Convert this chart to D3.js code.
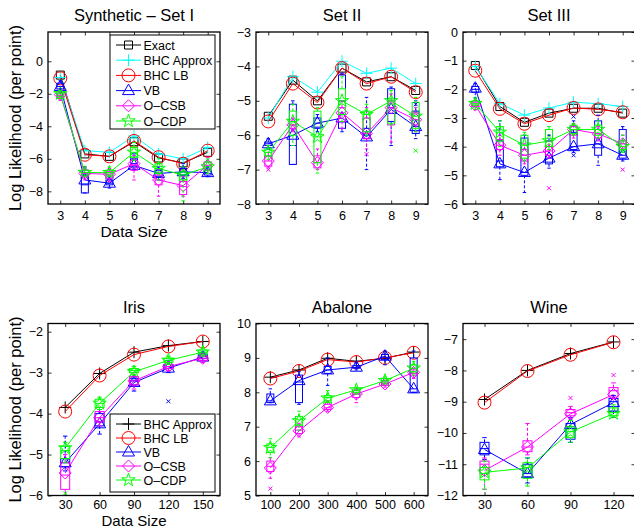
<!DOCTYPE html>
<html><head><meta charset="utf-8">
<script src="https://cdn.jsdelivr.net/npm/d3@7"></script>
<style>body{margin:0;background:#fff}text{font-family:"Liberation Sans",Arial,Helvetica,sans-serif}</style>
</head><body><svg id="c" width="634" height="529"></svg>
<script>
// ---------------- DATA ----------------
// Synthetic - Set I
const synthX = [3,4,5,6,7,8,9];
const synthExact  = [-0.85,-5.7,-5.85,-4.95,-5.95,-6.25,-5.6];
const synthApprox = [-1.0,-5.5,-5.6,-4.6,-5.7,-6.0,-5.3];
const synthLB     = [-1.05,-5.75,-5.85,-4.9,-5.9,-6.3,-5.5];
const synthVB     = [-1.55,-7.3,-7.5,-6.4,-6.9,-6.8,-6.85];
const synthCSB    = [-2.05,-6.9,-6.95,-6.3,-7.3,-7.65,-6.4];
const synthCDP    = [-2.0,-6.85,-6.85,-5.6,-6.6,-7.0,-6.5];
const synthVBBox  = [[-1.9,-1.7,-1.55,-1.35,-1.2],[-8.1,-8.1,-7.6,-7.0,-6.5],[-7.8,-7.6,-7.5,-7.3,-7.1],[-6.7,-6.5,-6.3,-6.0,-5.7],[-7.3,-7.1,-6.9,-6.7,-6.5],[-7.2,-7.0,-6.8,-6.6,-6.3],[-7.1,-7.0,-6.9,-6.7,-6.5]];
const synthCSBBox = [[-2.4,-2.2,-2.1,-2.0,-1.9],[-7.3,-7.1,-6.9,-6.7,-6.5],[-7.4,-7.2,-7.0,-6.8,-6.6],[-7.3,-6.7,-6.4,-6.1,-5.8],[-8.3,-7.6,-7.3,-7.0,-6.6],[-8.3,-8.2,-7.7,-7.4,-7.1],[-6.9,-6.7,-6.4,-6.2,-5.9]];
const synthCDPBox = [[-2.3,-2.15,-2.0,-1.9,-1.8],[-7.1,-7.0,-6.85,-6.7,-6.5],[-7.1,-7.0,-6.85,-6.7,-6.5],[-6.1,-5.9,-5.6,-5.3,-5.0],[-7.3,-6.9,-6.6,-6.3,-6.0],[-8.6,-7.3,-7.0,-6.8,-6.5],[-6.9,-6.7,-6.5,-6.2,-6.0]];
const synthYTicks = [0,-2,-4,-6,-8];

// Set II
const set2X = [3,4,5,6,7,8,9];
const set2Exact  = [-5.45,-4.4,-5.0,-4.05,-4.45,-4.3,-4.7];
const set2Approx = [-5.5,-4.3,-4.75,-3.85,-4.2,-4.05,-4.5];
const set2LB     = [-5.6,-4.5,-5.05,-4.05,-4.5,-4.3,-4.75];
const set2VB     = [-6.25,-6.0,-5.65,-5.5,-6.05,-5.25,-5.75];
const set2CSB    = [-6.75,-5.7,-6.8,-5.35,-5.95,-5.2,-5.55];
const set2CDP    = [-6.5,-5.6,-6.05,-5.0,-5.4,-5.0,-5.45];
const set2VBBox  = [[-6.4,-6.3,-6.25,-6.2,-6.1],[-6.85,-6.85,-6.3,-5.1,-5.0],[-5.9,-5.8,-5.65,-5.5,-5.4],[-5.9,-5.8,-5.0,-4.25,-4.2],[-7.0,-6.1,-6.0,-5.8,-4.9],[-6.3,-5.6,-5.2,-4.65,-4.6],[-6.1,-5.95,-5.75,-5.3,-5.0]];
const set2CSBBox = [[-6.95,-6.9,-6.75,-6.6,-6.5],[-5.9,-5.8,-5.7,-5.6,-5.5],[-7.0,-6.95,-6.8,-6.6,-6.4],[-5.8,-5.6,-5.35,-5.2,-5.0],[-6.4,-6.1,-5.95,-5.5,-5.2],[-6.2,-5.7,-5.2,-5.0,-4.8],[-5.9,-5.7,-5.55,-5.35,-5.2]];
const set2CDPBox = [[-6.7,-6.6,-6.5,-6.4,-6.3],[-6.3,-6.0,-5.6,-5.3,-5.1],[-7.1,-6.8,-6.05,-5.3,-5.2],[-5.6,-5.4,-5.0,-4.65,-4.3],[-6.0,-5.9,-5.4,-5.3,-5.1],[-5.7,-5.65,-5.0,-4.95,-4.7],[-5.9,-5.8,-5.45,-5.05,-4.9]];
const set2VBOut  = [[9,-5.1]];
const set2CSBOut = [[7,-6.55],[3,-7.0]];
const set2CDPOut = [[9,-6.45]];
const set2YTicks = [-3,-4,-5,-6,-7,-8];

// Set III
const set3X = [3,4,5,6,7,8,9];
const set3Exact  = [-1.17,-2.6,-3.15,-2.83,-2.66,-2.66,-2.83];
const set3Approx = [-1.2,-2.5,-2.9,-2.65,-2.45,-2.5,-2.6];
const set3LB     = [-1.35,-2.68,-3.2,-2.9,-2.65,-2.7,-2.8];
const set3VB     = [-1.96,-4.6,-4.9,-4.4,-4.0,-3.9,-4.3];
const set3CSB    = [-2.55,-3.95,-4.3,-4.15,-3.4,-3.55,-3.9];
const set3CDP    = [-2.5,-3.5,-3.95,-3.8,-3.4,-3.4,-4.0];
const set3VBBox  = [[-2.3,-2.1,-2.0,-1.9,-1.8],[-5.15,-4.7,-4.5,-3.8,-3.1],[-5.6,-5.0,-4.9,-3.7,-3.6],[-4.75,-4.6,-4.4,-3.8,-3.6],[-4.2,-4.1,-4.0,-3.5,-3.1],[-4.65,-4.3,-3.9,-3.1,-2.9],[-4.5,-4.4,-4.3,-3.4,-3.3]];
const set3CSBBox = [[-2.7,-2.6,-2.55,-2.45,-2.4],[-4.3,-4.1,-3.95,-3.75,-3.6],[-4.6,-4.5,-4.3,-4.1,-3.9],[-4.4,-4.3,-4.15,-4.0,-3.8],[-3.7,-3.6,-3.4,-3.3,-3.2],[-3.8,-3.7,-3.55,-3.4,-3.3],[-4.1,-4.0,-3.9,-3.8,-3.6]];
const set3CDPBox = [[-2.7,-2.55,-2.5,-2.4,-2.3],[-4.0,-3.8,-3.5,-3.3,-3.1],[-4.5,-4.4,-3.95,-3.6,-3.5],[-4.1,-4.0,-3.8,-3.4,-3.3],[-3.6,-3.55,-3.4,-3.25,-3.2],[-3.7,-3.6,-3.4,-3.25,-3.1],[-4.2,-4.1,-4.0,-3.8,-3.6]];
const set3VBOut  = [[7,-4.3],[7,-2.95]];
const set3CSBOut = [[6,-5.45],[9,-4.8]];
const set3YTicks = [0,-1,-2,-3,-4,-5,-6];

// Iris
const irisX = [30,60,90,120,150];
const irisApprox = [-3.85,-3.02,-2.5,-2.34,-2.24];
const irisLB     = [-3.95,-3.07,-2.56,-2.36,-2.24];
const irisVB     = [-5.2,-4.25,-3.24,-2.89,-2.62];
const irisCSB    = [-5.45,-4.1,-3.2,-2.85,-2.65];
const irisCDP    = [-4.84,-3.75,-2.98,-2.7,-2.5];
const irisVBBox  = [[-5.4,-5.3,-5.2,-5.1,-4.55],[-4.5,-4.3,-4.2,-4.0,-3.9],[-3.45,-3.3,-3.2,-3.15,-3.1],[-3.0,-2.9,-2.85,-2.8,-2.7],[-2.7,-2.65,-2.6,-2.55,-2.5]];
const irisCSBBox = [[-6.0,-5.85,-5.5,-5.2,-5.0],[-4.3,-4.2,-4.1,-3.95,-3.85],[-3.4,-3.3,-3.2,-3.1,-3.0],[-2.95,-2.9,-2.85,-2.8,-2.75],[-2.75,-2.7,-2.65,-2.6,-2.55]];
const irisCDPBox = [[-5.2,-5.1,-4.9,-4.8,-4.7],[-3.9,-3.85,-3.75,-3.65,-3.6],[-3.05,-3.0,-2.95,-2.9,-2.85],[-2.8,-2.75,-2.7,-2.65,-2.6],[-2.6,-2.55,-2.5,-2.45,-2.4]];
const irisVBOut  = [[120,-3.7]];
const irisCDPOut = [[30,-5.95]];
const irisYTicks = [-2,-3,-4,-5,-6];

// Abalone
const abaloneX = [100,200,300,400,500,600];
const abaloneApprox = [8.44,8.65,8.99,8.9,8.99,9.17];
const abaloneLB     = [8.4,8.62,8.95,8.88,9.0,9.15];
const abaloneVB     = [7.75,8.34,8.65,8.73,9.05,8.1];
const abaloneCSB    = [5.8,6.88,7.56,7.95,8.24,8.58];
const abaloneCDP    = [6.39,7.17,7.83,8.07,8.34,8.7];
const abaloneVBBox  = [[7.7,7.7,7.75,7.95,8.1],[7.65,7.7,8.3,8.5,8.6],[8.2,8.55,8.65,8.75,9.0],[8.65,8.7,8.72,8.78,8.85],[8.8,8.95,9.02,9.1,9.2],[8.0,8.0,8.1,9.0,9.2]];
const abaloneCSBBox = [[5.5,5.7,5.85,6.0,6.1],[6.7,6.8,6.9,7.0,7.1],[7.45,7.5,7.55,7.65,7.75],[7.7,7.85,7.95,8.05,8.1],[8.15,8.2,8.25,8.3,8.35],[8.4,8.5,8.55,8.65,8.7]];
const abaloneCDPBox = [[6.1,6.25,6.4,6.5,6.65],[6.9,7.05,7.2,7.3,7.45],[7.7,7.75,7.85,7.9,8.05],[7.95,8.0,8.05,8.1,8.15],[8.25,8.3,8.35,8.4,8.45],[8.5,8.6,8.7,8.8,8.9]];
const abaloneCSBOut = [[100,5.2]];
const abaloneYTicks = [5,6,7,8,9,10];

// Wine
const wineX = [30,60,90,120];
const wineApprox = [-8.93,-8.0,-7.46,-7.09];
const wineLB     = [-9.03,-8.02,-7.5,-7.1];
const wineVB     = [-10.53,-11.3,-9.73,-9.03];
const wineCSB    = [-11.2,-10.45,-9.39,-8.77];
const wineCDP    = [-11.26,-11.12,-9.97,-9.38];
const wineVBBox  = [[-10.85,-10.7,-10.5,-10.3,-10.15],[-11.6,-11.4,-11.3,-11.0,-10.8],[-10.3,-10.2,-9.8,-9.7,-9.5],[-9.5,-9.3,-9.0,-8.9,-8.8]];
const wineCSBBox = [[-11.8,-11.3,-11.0,-10.9,-10.8],[-10.7,-10.6,-10.45,-10.25,-9.7],[-9.55,-9.45,-9.35,-9.25,-9.15],[-8.9,-8.85,-8.65,-8.55,-8.4]];
const wineCDPBox = [[-11.8,-11.5,-11.3,-11.1,-10.9],[-11.7,-11.45,-11.1,-10.95,-10.8],[-10.3,-10.15,-9.95,-9.8,-9.6],[-9.5,-9.45,-9.35,-9.2,-9.1]];
const wineCSBOut = [[90,-8.88],[120,-8.15]];
const wineYTicks = [-7,-8,-9,-10,-11,-12];

const topNames = ["Exact","BHC Approx","BHC LB","VB","O–CSB","O–CDP"];
const bottomNames = ["BHC Approx","BHC LB","VB","O–CSB","O–CDP"];

// ---------------- STYLES ----------------
const C = {k:"#000000", c:"#00ffff", r:"#ff0000", b:"#0000ff", m:"#ff00ff", g:"#00ff00"};
function topSeries(ex, ap, lb, vb, csb, cdp){
  return [
    {name:topNames[0], v:ex, color:C.k, mk:"square"},
    {name:topNames[1], v:ap, color:C.c, mk:"plus"},
    {name:topNames[2], v:lb, color:C.r, mk:"circle"},
    {name:topNames[3], v:vb, color:C.b, mk:"tri"},
    {name:topNames[4], v:csb, color:C.m, mk:"diamond"},
    {name:topNames[5], v:cdp, color:C.g, mk:"star"}];
}
function botSeries(ap, lb, vb, csb, cdp){
  return [
    {name:bottomNames[0], v:ap, color:C.k, mk:"plus"},
    {name:bottomNames[1], v:lb, color:C.r, mk:"circle"},
    {name:bottomNames[2], v:vb, color:C.b, mk:"tri"},
    {name:bottomNames[3], v:csb, color:C.m, mk:"diamond"},
    {name:bottomNames[4], v:cdp, color:C.g, mk:"star"}];
}

const W = 172, H = 172;
const panels = [
  {title:"Synthetic – Set I", L:48, T:32, xd:[2.5,9.5], yd:[-8.78,1.8], X:synthX, yt:synthYTicks, xlab:true, ylab:true, bw:7, tp:7, xlY:236.5, xlF:15.5,
   series:topSeries(synthExact,synthApprox,synthLB,synthVB,synthCSB,synthCDP),
   boxes:[[synthVBBox,C.b],[synthCSBBox,C.m],[synthCDPBox,C.g]], outs:[],
   legend:{x:110,y:35,w:105,h:94,row:15.2,first:10}},
  {title:"Set II", L:256, T:32, xd:[2.5,9.5], yd:[-8,-3], X:set2X, yt:set2YTicks, bw:7, tp:7,
   series:topSeries(set2Exact,set2Approx,set2LB,set2VB,set2CSB,set2CDP),
   boxes:[[set2VBBox,C.b],[set2CSBBox,C.m],[set2CDPBox,C.g]],
   outs:[[set2VBOut,C.b],[set2CSBOut,C.m],[set2CDPOut,C.g]]},
  {title:"Set III", L:463, T:32, xd:[2.5,9.5], yd:[-6,0], X:set3X, yt:set3YTicks, bw:7, tp:7,
   series:topSeries(set3Exact,set3Approx,set3LB,set3VB,set3CSB,set3CDP),
   boxes:[[set3VBBox,C.b],[set3CSBBox,C.m],[set3CDPBox,C.g]],
   outs:[[set3VBOut,C.b],[set3CSBOut,C.m]]},
  {title:"Iris", L:48, T:323.5, xd:[15,165], yd:[-6,-1.8], X:irisX, yt:irisYTicks, xlab:true, ylab:true, bw:9, tp:4.5, xlY:525.5, xlF:15,
   series:botSeries(irisApprox,irisLB,irisVB,irisCSB,irisCDP),
   boxes:[[irisVBBox,C.b],[irisCSBBox,C.m],[irisCDPBox,C.g]],
   outs:[[irisVBOut,C.b],[irisCDPOut,C.g]],
   legend:{x:110,y:414,w:105,h:78,row:14,first:10}},
  {title:"Abalone", L:256, T:323.5, xd:[50,650], yd:[5,10], X:abaloneX, yt:abaloneYTicks, bw:7, tp:4.5,
   series:botSeries(abaloneApprox,abaloneLB,abaloneVB,abaloneCSB,abaloneCDP),
   boxes:[[abaloneVBBox,C.b],[abaloneCSBBox,C.m],[abaloneCDPBox,C.g]],
   outs:[[abaloneCSBOut,C.m]]},
  {title:"Wine", L:463, T:323.5, xd:[15,135], yd:[-12,-6.5], X:wineX, yt:wineYTicks, bw:9, tp:4.5,
   series:botSeries(wineApprox,wineLB,wineVB,wineCSB,wineCDP),
   boxes:[[wineVBBox,C.b],[wineCSBBox,C.m],[wineCDPBox,C.g]],
   outs:[[wineCSBOut,C.m]]}
];

// ---------------- DRAW ----------------
const svg = d3.select("#c");
const fmt = d => (d < 0 ? "\u2212" + Math.abs(d) : String(d));

function markerPath(type){
  switch(type){
    case "square": return "M-4,-4H4V4H-4Z";
    case "plus": return "M-6,0H6M0,-6V6";
    case "circle": return d3.arc()({innerRadius:0,outerRadius:6.5,startAngle:0,endAngle:2*Math.PI});
    case "tri": return "M0,-6.5L6,4L-6,4Z";
    case "diamond": return "M0,-6L6,0L0,6L-6,0Z";
    case "star": {
      let p = [];
      for (let i=0;i<10;i++){ const r = i%2===0?7:2.7; const a = -Math.PI/2 + i*Math.PI/5; p.push([r*Math.cos(a), r*Math.sin(a)]); }
      return "M" + p.map(q=>q[0].toFixed(2)+","+q[1].toFixed(2)).join("L") + "Z";
    }
  }
}

panels.forEach(P => {
  const x = d3.scaleLinear().domain(P.xd).range([P.L, P.L+W]);
  const y = d3.scaleLinear().domain(P.yd).range([P.T+H, P.T]);
  const g = svg.append("g");
  const clipId = "clip" + P.L + "_" + Math.round(P.T);
  svg.append("clipPath").attr("id", clipId).append("rect").attr("x",P.L).attr("y",P.T).attr("width",W).attr("height",H);

  // axes
  const ax = g.append("g").attr("transform", `translate(0,${P.T+H})`)
    .call(d3.axisBottom(x).tickValues(P.X).tickSizeInner(-3.5).tickSizeOuter(0).tickPadding(P.tp).tickFormat(fmt));
  const axt = g.append("g").attr("transform", `translate(0,${P.T})`)
    .call(d3.axisTop(x).tickValues(P.X).tickSizeInner(-3.5).tickSizeOuter(0).tickFormat(""));
  const ay = g.append("g").attr("transform", `translate(${P.L},0)`)
    .call(d3.axisLeft(y).tickValues(P.yt).tickSizeInner(-3.5).tickSizeOuter(0).tickPadding(5).tickFormat(fmt));
  const ayr = g.append("g").attr("transform", `translate(${P.L+W},0)`)
    .call(d3.axisRight(y).tickValues(P.yt).tickSizeInner(-3.5).tickSizeOuter(0).tickFormat(""));
  [ax,axt,ay,ayr].forEach(a => {
    a.select(".domain").remove();
    a.selectAll("line").attr("stroke","#000").attr("stroke-width",0.8);
    a.selectAll("text").attr("font-size",12.5).attr("fill","#000").style("font-family",'"Liberation Sans",Arial,sans-serif');
  });

  const plot = g.append("g").attr("clip-path", `url(#${clipId})`);

  // lines with markers
  P.series.forEach(s => {
    const line = d3.line().x((d,i)=>x(P.X[i])).y(d=>y(d));
    plot.append("path").attr("d", line(s.v)).attr("fill","none").attr("stroke",s.color).attr("stroke-width",1);
    plot.selectAll(null).data(s.v).enter().append("path")
      .attr("transform",(d,i)=>`translate(${x(P.X[i])},${y(d)})`)
      .attr("d", markerPath(s.mk)).attr("fill","none").attr("stroke",s.color).attr("stroke-width",1);
  });

  // boxplots
  P.boxes.forEach(([arr, col]) => {
    arr.forEach((b,i) => {
      const cx = x(P.X[i]), hw = P.bw/2, cw = P.bw/4;
      const [lo,q1,md,q3,hi] = b.map(y);
      const bg = plot.append("g").attr("stroke",col).attr("fill","none").attr("stroke-width",1);
      bg.append("rect").attr("x",cx-hw).attr("y",q3).attr("width",P.bw).attr("height",Math.max(q1-q3,0.5));
      bg.append("line").attr("x1",cx-hw).attr("x2",cx+hw).attr("y1",md).attr("y2",md);
      bg.append("line").attr("x1",cx).attr("x2",cx).attr("y1",q3).attr("y2",hi).attr("stroke-dasharray","3,2");
      bg.append("line").attr("x1",cx).attr("x2",cx).attr("y1",q1).attr("y2",lo).attr("stroke-dasharray","3,2");
      bg.append("line").attr("x1",cx-cw).attr("x2",cx+cw).attr("y1",hi).attr("y2",hi);
      bg.append("line").attr("x1",cx-cw).attr("x2",cx+cw).attr("y1",lo).attr("y2",lo);
    });
  });
  // outliers
  P.outs.forEach(([pts,col]) => {
    plot.selectAll(null).data(pts).enter().append("path")
      .attr("transform",d=>`translate(${x(d[0])},${y(d[1])})`)
      .attr("d","M-2,-2L2,2M-2,2L2,-2").attr("stroke",col).attr("stroke-width",1);
  });

  // frame
  g.append("rect").attr("x",P.L).attr("y",P.T).attr("width",W).attr("height",H)
    .attr("fill","none").attr("stroke","#000").attr("stroke-width",1.3);

  // title
  g.append("text").attr("x",P.L+W/2).attr("y",P.T-11).attr("text-anchor","middle")
    .attr("font-size",16.5).text(P.title);
  if (P.xlab) g.append("text").attr("x",P.L+W/2).attr("y",P.xlY).attr("text-anchor","middle")
    .attr("font-size",P.xlF).text("Data Size");
  if (P.ylab) g.append("text").attr("transform",`translate(21,${P.T+H/2}) rotate(-90)`).attr("text-anchor","middle")
    .attr("font-size",16.5).text("Log Likelihood (per point)");

  // legend
  if (P.legend){
    const Lg = P.legend;
    const lg = g.append("g");
    lg.append("rect").attr("x",Lg.x).attr("y",Lg.y).attr("width",Lg.w).attr("height",Lg.h)
      .attr("fill","#fff").attr("stroke","#000").attr("stroke-width",1);
    P.series.forEach((s,i) => {
      const yy = Lg.y + Lg.first + i*Lg.row;
      lg.append("line").attr("x1",Lg.x+6).attr("x2",Lg.x+31).attr("y1",yy).attr("y2",yy).attr("stroke",s.color).attr("stroke-width",1);
      lg.append("path").attr("transform",`translate(${Lg.x+18.5},${yy})`).attr("d",markerPath(s.mk))
        .attr("fill","none").attr("stroke",s.color).attr("stroke-width",1);
      lg.append("text").attr("x",Lg.x+33.5).attr("y",yy+4.5).attr("font-size",12.5).text(s.name);
    });
  }
});
</script></body></html>
